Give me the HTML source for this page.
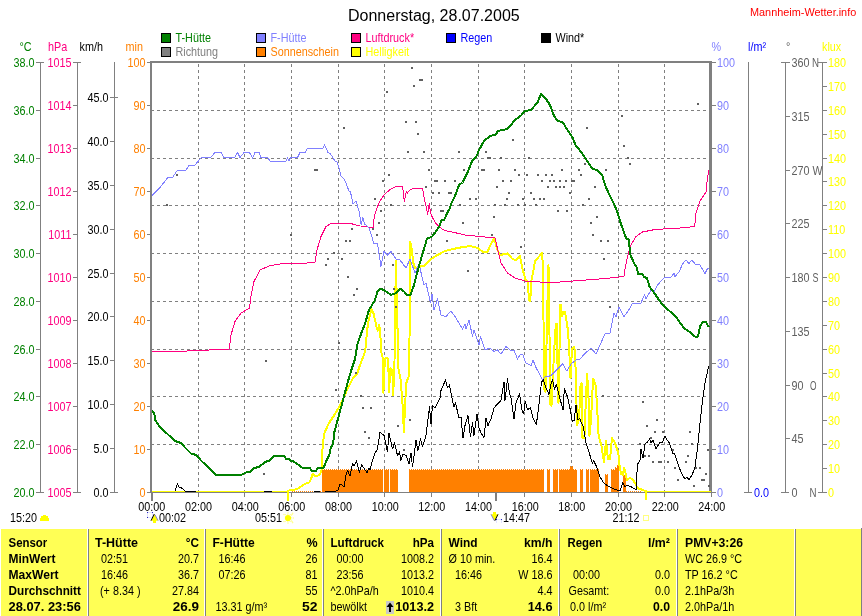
<!DOCTYPE html>
<html lang="de"><head><meta charset="utf-8"><title>Mannheim-Wetter.info - Donnerstag, 28.07.2005</title>
<style>html,body{margin:0;padding:0;background:#fff;overflow:hidden}svg{display:block;font-family:'Liberation Sans', Arial, sans-serif}text{white-space:pre}</style></head><body>
<svg width="862" height="616" viewBox="0 0 862 616">
<rect width="862" height="616" fill="#fff"/>
<g shape-rendering="crispEdges">
<g stroke="#808080" stroke-width="1" stroke-dasharray="3,3">
<line x1="198.5" y1="64" x2="198.5" y2="491"/>
<line x1="244.5" y1="64" x2="244.5" y2="491"/>
<line x1="291.5" y1="64" x2="291.5" y2="491"/>
<line x1="338.5" y1="64" x2="338.5" y2="491"/>
<line x1="384.5" y1="64" x2="384.5" y2="491"/>
<line x1="431.5" y1="64" x2="431.5" y2="491"/>
<line x1="478.5" y1="64" x2="478.5" y2="491"/>
<line x1="524.5" y1="64" x2="524.5" y2="491"/>
<line x1="571.5" y1="64" x2="571.5" y2="491"/>
<line x1="618.5" y1="64" x2="618.5" y2="491"/>
<line x1="664.5" y1="64" x2="664.5" y2="491"/>
<line x1="151" y1="110.5" x2="709" y2="110.5"/>
<line x1="151" y1="158.5" x2="709" y2="158.5"/>
<line x1="151" y1="205.5" x2="709" y2="205.5"/>
<line x1="151" y1="253.5" x2="709" y2="253.5"/>
<line x1="151" y1="301.5" x2="709" y2="301.5"/>
<line x1="151" y1="349.5" x2="709" y2="349.5"/>
<line x1="151" y1="396.5" x2="709" y2="396.5"/>
<line x1="151" y1="444.5" x2="709" y2="444.5"/>
</g>
</g>
<g shape-rendering="crispEdges">
<rect x="150" y="61" width="2" height="432" fill="#808080"/>
<rect x="150" y="61" width="562" height="2" fill="#808080"/>
<rect x="709" y="61" width="3" height="432" fill="#808080"/>
<rect x="150" y="492" width="562" height="1" fill="#808080"/>
<rect x="151" y="493" width="1" height="4" fill="#808080"/>
<rect x="198" y="493" width="1" height="4" fill="#808080"/>
<rect x="244" y="493" width="1" height="4" fill="#808080"/>
<rect x="291" y="493" width="1" height="4" fill="#808080"/>
<rect x="338" y="493" width="1" height="4" fill="#808080"/>
<rect x="384" y="493" width="1" height="4" fill="#808080"/>
<rect x="431" y="493" width="1" height="4" fill="#808080"/>
<rect x="478" y="493" width="1" height="4" fill="#808080"/>
<rect x="524" y="493" width="1" height="4" fill="#808080"/>
<rect x="571" y="493" width="1" height="4" fill="#808080"/>
<rect x="618" y="493" width="1" height="4" fill="#808080"/>
<rect x="664" y="493" width="1" height="4" fill="#808080"/>
<rect x="711" y="493" width="1" height="4" fill="#808080"/>
<rect x="151" y="493" width="2" height="8" fill="#808080"/>
<rect x="495" y="493" width="2" height="8" fill="#808080"/>
<rect x="40" y="62" width="1" height="431" fill="#808080"/>
<rect x="36" y="62" width="4" height="1" fill="#808080"/>
<rect x="36" y="110" width="4" height="1" fill="#808080"/>
<rect x="36" y="158" width="4" height="1" fill="#808080"/>
<rect x="36" y="205" width="4" height="1" fill="#808080"/>
<rect x="36" y="253" width="4" height="1" fill="#808080"/>
<rect x="36" y="301" width="4" height="1" fill="#808080"/>
<rect x="36" y="349" width="4" height="1" fill="#808080"/>
<rect x="36" y="396" width="4" height="1" fill="#808080"/>
<rect x="36" y="444" width="4" height="1" fill="#808080"/>
<rect x="36" y="492" width="4" height="1" fill="#808080"/>
<rect x="36" y="62" width="8" height="1" fill="#808080"/>
<rect x="36" y="492" width="8" height="1" fill="#808080"/>
<rect x="77" y="62" width="1" height="431" fill="#808080"/>
<rect x="73" y="62" width="4" height="1" fill="#808080"/>
<rect x="73" y="105" width="4" height="1" fill="#808080"/>
<rect x="73" y="148" width="4" height="1" fill="#808080"/>
<rect x="73" y="191" width="4" height="1" fill="#808080"/>
<rect x="73" y="234" width="4" height="1" fill="#808080"/>
<rect x="73" y="277" width="4" height="1" fill="#808080"/>
<rect x="73" y="320" width="4" height="1" fill="#808080"/>
<rect x="73" y="363" width="4" height="1" fill="#808080"/>
<rect x="73" y="406" width="4" height="1" fill="#808080"/>
<rect x="73" y="449" width="4" height="1" fill="#808080"/>
<rect x="73" y="492" width="4" height="1" fill="#808080"/>
<rect x="73" y="62" width="8" height="1" fill="#808080"/>
<rect x="73" y="492" width="8" height="1" fill="#808080"/>
<rect x="114" y="62" width="1" height="431" fill="#808080"/>
<rect x="110" y="492" width="8" height="1" fill="#808080"/>
<rect x="110" y="448" width="4" height="1" fill="#808080"/>
<rect x="110" y="404" width="4" height="1" fill="#808080"/>
<rect x="110" y="360" width="4" height="1" fill="#808080"/>
<rect x="110" y="316" width="4" height="1" fill="#808080"/>
<rect x="110" y="273" width="4" height="1" fill="#808080"/>
<rect x="110" y="229" width="4" height="1" fill="#808080"/>
<rect x="110" y="185" width="4" height="1" fill="#808080"/>
<rect x="110" y="141" width="4" height="1" fill="#808080"/>
<rect x="110" y="97" width="8" height="1" fill="#808080"/>
<rect x="147" y="62" width="3" height="1" fill="#808080"/>
<rect x="712" y="62" width="4" height="1" fill="#808080"/>
<rect x="147" y="105" width="3" height="1" fill="#808080"/>
<rect x="712" y="105" width="4" height="1" fill="#808080"/>
<rect x="147" y="148" width="3" height="1" fill="#808080"/>
<rect x="712" y="148" width="4" height="1" fill="#808080"/>
<rect x="147" y="191" width="3" height="1" fill="#808080"/>
<rect x="712" y="191" width="4" height="1" fill="#808080"/>
<rect x="147" y="234" width="3" height="1" fill="#808080"/>
<rect x="712" y="234" width="4" height="1" fill="#808080"/>
<rect x="147" y="277" width="3" height="1" fill="#808080"/>
<rect x="712" y="277" width="4" height="1" fill="#808080"/>
<rect x="147" y="320" width="3" height="1" fill="#808080"/>
<rect x="712" y="320" width="4" height="1" fill="#808080"/>
<rect x="147" y="363" width="3" height="1" fill="#808080"/>
<rect x="712" y="363" width="4" height="1" fill="#808080"/>
<rect x="147" y="406" width="3" height="1" fill="#808080"/>
<rect x="712" y="406" width="4" height="1" fill="#808080"/>
<rect x="147" y="449" width="3" height="1" fill="#808080"/>
<rect x="712" y="449" width="4" height="1" fill="#808080"/>
<rect x="147" y="492" width="3" height="1" fill="#808080"/>
<rect x="712" y="492" width="4" height="1" fill="#808080"/>
<rect x="748" y="62" width="1" height="431" fill="#808080"/>
<rect x="744" y="492" width="8" height="1" fill="#808080"/>
<rect x="785" y="62" width="1" height="431" fill="#808080"/>
<rect x="781" y="62" width="9" height="1" fill="#808080"/>
<rect x="785" y="116" width="5" height="1" fill="#808080"/>
<rect x="785" y="170" width="5" height="1" fill="#808080"/>
<rect x="785" y="223" width="5" height="1" fill="#808080"/>
<rect x="785" y="277" width="5" height="1" fill="#808080"/>
<rect x="785" y="331" width="5" height="1" fill="#808080"/>
<rect x="785" y="385" width="5" height="1" fill="#808080"/>
<rect x="785" y="438" width="5" height="1" fill="#808080"/>
<rect x="781" y="492" width="8" height="1" fill="#808080"/>
<rect x="822" y="62" width="1" height="431" fill="#808080"/>
<rect x="818" y="62" width="9" height="1" fill="#808080"/>
<rect x="822" y="86" width="5" height="1" fill="#808080"/>
<rect x="822" y="110" width="5" height="1" fill="#808080"/>
<rect x="822" y="134" width="5" height="1" fill="#808080"/>
<rect x="822" y="158" width="5" height="1" fill="#808080"/>
<rect x="822" y="181" width="5" height="1" fill="#808080"/>
<rect x="822" y="205" width="5" height="1" fill="#808080"/>
<rect x="822" y="229" width="5" height="1" fill="#808080"/>
<rect x="822" y="253" width="5" height="1" fill="#808080"/>
<rect x="822" y="277" width="5" height="1" fill="#808080"/>
<rect x="822" y="301" width="5" height="1" fill="#808080"/>
<rect x="822" y="325" width="5" height="1" fill="#808080"/>
<rect x="822" y="349" width="5" height="1" fill="#808080"/>
<rect x="822" y="373" width="5" height="1" fill="#808080"/>
<rect x="822" y="396" width="5" height="1" fill="#808080"/>
<rect x="822" y="420" width="5" height="1" fill="#808080"/>
<rect x="822" y="444" width="5" height="1" fill="#808080"/>
<rect x="822" y="468" width="5" height="1" fill="#808080"/>
<rect x="818" y="492" width="9" height="1" fill="#808080"/>
</g>
<g shape-rendering="crispEdges">
<g fill="#ff8000">
<rect x="322" y="470" width="61" height="22"/>
<rect x="384" y="470" width="5" height="22"/>
<rect x="390" y="470" width="8" height="22"/>
<rect x="409" y="470" width="135" height="22"/>
<rect x="547" y="470" width="3" height="22"/>
<rect x="553" y="470" width="5" height="22"/>
<rect x="559" y="470" width="11" height="22"/>
<rect x="570" y="467" width="3" height="25"/>
<rect x="573" y="470" width="4" height="22"/>
<rect x="580" y="470" width="3" height="22"/>
<rect x="586" y="470" width="3" height="22"/>
<rect x="590" y="470" width="9" height="22"/>
<rect x="605" y="475" width="3" height="17"/>
<rect x="611" y="470" width="4" height="22"/>
<rect x="615" y="468" width="2" height="24"/>
<rect x="617" y="466" width="2" height="26"/>
<rect x="623" y="475" width="3" height="17"/>
</g>
<g stroke="#ff8000" stroke-width="1" stroke-dasharray="1,1">
<line x1="322" y1="469.5" x2="383" y2="469.5"/>
<line x1="384" y1="469.5" x2="389" y2="469.5"/>
<line x1="390" y1="469.5" x2="398" y2="469.5"/>
<line x1="409" y1="469.5" x2="544" y2="469.5"/>
<line x1="547" y1="469.5" x2="550" y2="469.5"/>
<line x1="553" y1="469.5" x2="558" y2="469.5"/>
<line x1="559" y1="469.5" x2="570" y2="469.5"/>
<line x1="570" y1="466.5" x2="573" y2="466.5"/>
<line x1="573" y1="469.5" x2="577" y2="469.5"/>
<line x1="580" y1="469.5" x2="583" y2="469.5"/>
<line x1="586" y1="469.5" x2="589" y2="469.5"/>
<line x1="590" y1="469.5" x2="599" y2="469.5"/>
<line x1="605" y1="474.5" x2="608" y2="474.5"/>
<line x1="611" y1="469.5" x2="615" y2="469.5"/>
<line x1="615" y1="467.5" x2="617" y2="467.5"/>
<line x1="617" y1="465.5" x2="619" y2="465.5"/>
<line x1="623" y1="474.5" x2="626" y2="474.5"/>
<line x1="292" y1="491.5" x2="322" y2="491.5"/>
<line x1="626" y1="491.5" x2="641" y2="491.5"/>
</g>
</g>
<polyline points="289,490.5 292,490.3 297.8,488.7 304.8,484.1 309.4,482.3 311.2,478.3 312.9,473.6 314.7,476 318.7,475.4 321,472.5 322.2,466.7 322.4,450.5 324,434 329,423 335,414 340,405.5 344,397 347.5,389 352.5,379 357,374 359.7,366 365.3,351 366.2,340 368,323 371.4,309 373.7,314 376.5,327 377.8,330.7 379.3,325 380.2,334.5 381,344 381,351 383,358.7 383.4,393 384.9,358.7 385.8,357.7 388.2,358.7 389,392 390.4,368 392.3,370 393.2,395 394.5,362 395,312 396,260.8 397,312 398,344 398.3,368 400.7,380 402.6,405 403.9,432 405,407 406.3,383 409,375.5 409.5,340 409.7,310 410.2,242 412,250.5 413.2,262.6 415,268 418.4,267 425,265.4 429.6,260 434.3,257 437.5,255 445,251 457.5,248 470,246 477.5,248 482.5,251.5 487.5,251.5 491,244 494.5,238 497,249 500,255 507.5,253.5 512.5,259 516,260 519.5,256.5 520,256 522.8,270 525.6,280 527.8,282 529,300.6 530.3,300.6 531.2,282 533,272.6 535,261.5 538.7,256.8 542.4,252.7 543.5,320 544.5,390 545.5,392 546.5,345 547.5,300 548.5,265 549.5,335 550.5,405 551.5,406 553,373 554.5,345 555.8,324 556.8,324 557.8,380 558.5,403 559.5,350 560,305 561,305 562,316 563.5,312 565,312 566,318 567.6,328 569,345 570.5,378 572,349 574,347 575,351 576,382 577,425 579,420 580.6,384 581.6,383 582.5,438 584.4,438 586.2,392 587.2,374 588.7,401 589.4,436 591,420 592.4,392 593.3,379 595.6,385 597,405 598.4,433 600,442 601,443 604,462 606,440.5 608,459 610,459 612,438 615,443 617.5,450.5 618.5,455 619,462.7 621,474 623,474.8 624,467.8 625.5,472.9 626.8,479.9 630,478 632.5,479.2 635,483 637.6,488.2 641.5,489.5 645.5,491" fill="none" stroke="#ffff00" stroke-width="2" stroke-linejoin="round" shape-rendering="crispEdges"/>
<polyline points="287.8,490 287.8,500.5" fill="none" stroke="#ffff00" stroke-width="2" stroke-linejoin="round" shape-rendering="crispEdges"/>
<polyline points="646,490 646,500.3" fill="none" stroke="#ffff00" stroke-width="2" stroke-linejoin="round" shape-rendering="crispEdges"/>
<g fill="#606060" shape-rendering="crispEdges">
<rect x="343" y="127" width="2" height="2"/>
<rect x="314" y="169" width="4" height="2"/>
<rect x="176" y="174" width="2" height="2"/>
<rect x="166" y="204" width="2" height="2"/>
<rect x="411" y="67" width="2" height="2"/>
<rect x="419" y="79" width="4" height="2"/>
<rect x="413" y="85" width="2" height="2"/>
<rect x="386" y="91" width="2" height="2"/>
<rect x="405" y="121" width="2" height="2"/>
<rect x="415" y="121" width="2" height="2"/>
<rect x="417" y="133" width="2" height="2"/>
<rect x="407" y="151" width="2" height="2"/>
<rect x="423" y="151" width="2" height="2"/>
<rect x="458" y="151" width="2" height="2"/>
<rect x="485" y="151" width="2" height="2"/>
<rect x="512" y="139" width="2" height="2"/>
<rect x="428" y="169" width="2" height="2"/>
<rect x="388" y="174" width="2" height="2"/>
<rect x="382" y="180" width="2" height="2"/>
<rect x="463" y="169" width="2" height="2"/>
<rect x="481" y="169" width="4" height="2"/>
<rect x="498" y="169" width="2" height="2"/>
<rect x="514" y="169" width="2" height="2"/>
<rect x="487" y="157" width="4" height="2"/>
<rect x="500" y="157" width="2" height="2"/>
<rect x="528" y="157" width="2" height="2"/>
<rect x="561" y="169" width="2" height="2"/>
<rect x="578" y="169" width="2" height="2"/>
<rect x="518" y="174" width="2" height="2"/>
<rect x="526" y="174" width="2" height="2"/>
<rect x="537" y="174" width="2" height="2"/>
<rect x="545" y="174" width="2" height="2"/>
<rect x="551" y="174" width="2" height="2"/>
<rect x="434" y="180" width="4" height="2"/>
<rect x="444" y="180" width="2" height="2"/>
<rect x="454" y="180" width="2" height="2"/>
<rect x="502" y="180" width="2" height="2"/>
<rect x="510" y="180" width="2" height="2"/>
<rect x="541" y="180" width="2" height="2"/>
<rect x="549" y="180" width="2" height="2"/>
<rect x="553" y="180" width="2" height="2"/>
<rect x="559" y="180" width="2" height="2"/>
<rect x="565" y="180" width="2" height="2"/>
<rect x="571" y="180" width="4" height="2"/>
<rect x="425" y="186" width="2" height="2"/>
<rect x="496" y="186" width="2" height="2"/>
<rect x="547" y="186" width="2" height="2"/>
<rect x="555" y="186" width="2" height="2"/>
<rect x="559" y="186" width="2" height="2"/>
<rect x="563" y="186" width="2" height="2"/>
<rect x="432" y="192" width="2" height="2"/>
<rect x="438" y="192" width="2" height="2"/>
<rect x="448" y="192" width="4" height="2"/>
<rect x="508" y="192" width="2" height="2"/>
<rect x="530" y="192" width="2" height="2"/>
<rect x="569" y="192" width="2" height="2"/>
<rect x="374" y="198" width="2" height="2"/>
<rect x="469" y="198" width="2" height="2"/>
<rect x="475" y="198" width="2" height="2"/>
<rect x="506" y="198" width="2" height="2"/>
<rect x="522" y="198" width="2" height="2"/>
<rect x="533" y="198" width="2" height="2"/>
<rect x="539" y="198" width="2" height="2"/>
<rect x="543" y="198" width="2" height="2"/>
<rect x="390" y="204" width="2" height="2"/>
<rect x="459" y="204" width="2" height="2"/>
<rect x="494" y="204" width="2" height="2"/>
<rect x="504" y="204" width="2" height="2"/>
<rect x="517" y="204" width="2" height="2"/>
<rect x="524" y="204" width="2" height="2"/>
<rect x="535" y="204" width="2" height="2"/>
<rect x="380" y="210" width="2" height="2"/>
<rect x="440" y="210" width="4" height="2"/>
<rect x="557" y="210" width="2" height="2"/>
<rect x="566" y="210" width="2" height="2"/>
<rect x="697" y="103" width="2" height="2"/>
<rect x="621" y="115" width="2" height="2"/>
<rect x="586" y="127" width="2" height="2"/>
<rect x="623" y="145" width="2" height="2"/>
<rect x="627" y="157" width="2" height="2"/>
<rect x="629" y="163" width="2" height="2"/>
<rect x="584" y="163" width="2" height="2"/>
<rect x="605" y="169" width="2" height="2"/>
<rect x="580" y="174" width="2" height="2"/>
<rect x="594" y="186" width="2" height="2"/>
<rect x="588" y="198" width="2" height="2"/>
<rect x="582" y="204" width="2" height="2"/>
<rect x="290" y="234" width="2" height="2"/>
<rect x="351" y="228" width="2" height="2"/>
<rect x="345" y="240" width="2" height="2"/>
<rect x="349" y="240" width="2" height="2"/>
<rect x="333" y="252" width="2" height="2"/>
<rect x="327" y="258" width="2" height="2"/>
<rect x="341" y="258" width="2" height="2"/>
<rect x="325" y="264" width="2" height="2"/>
<rect x="347" y="276" width="2" height="2"/>
<rect x="356" y="288" width="2" height="2"/>
<rect x="353" y="294" width="2" height="2"/>
<rect x="338" y="342" width="2" height="2"/>
<rect x="265" y="360" width="2" height="2"/>
<rect x="378" y="222" width="2" height="2"/>
<rect x="376" y="234" width="2" height="2"/>
<rect x="372" y="228" width="2" height="2"/>
<rect x="392" y="264" width="2" height="2"/>
<rect x="393" y="288" width="2" height="2"/>
<rect x="395" y="306" width="2" height="2"/>
<rect x="433" y="232" width="2" height="2"/>
<rect x="446" y="240" width="2" height="2"/>
<rect x="462" y="222" width="2" height="2"/>
<rect x="467" y="270" width="2" height="2"/>
<rect x="493" y="216" width="2" height="2"/>
<rect x="491" y="234" width="2" height="2"/>
<rect x="520" y="246" width="2" height="2"/>
<rect x="478" y="341" width="2" height="2"/>
<rect x="596" y="216" width="2" height="2"/>
<rect x="590" y="222" width="2" height="2"/>
<rect x="592" y="234" width="2" height="2"/>
<rect x="600" y="240" width="2" height="2"/>
<rect x="607" y="240" width="2" height="2"/>
<rect x="603" y="258" width="2" height="2"/>
<rect x="609" y="306" width="2" height="2"/>
<rect x="263" y="473" width="2" height="2"/>
<rect x="335" y="389" width="2" height="2"/>
<rect x="362" y="407" width="2" height="2"/>
<rect x="355" y="372" width="2" height="2"/>
<rect x="360" y="395" width="2" height="2"/>
<rect x="362" y="407" width="2" height="2"/>
<rect x="370" y="407" width="2" height="2"/>
<rect x="409" y="419" width="2" height="2"/>
<rect x="397" y="425" width="2" height="2"/>
<rect x="364" y="431" width="2" height="2"/>
<rect x="368" y="437" width="2" height="2"/>
<rect x="403" y="449" width="2" height="2"/>
<rect x="355" y="372" width="2" height="2"/>
<rect x="602" y="395" width="2" height="2"/>
<rect x="642" y="401" width="2" height="2"/>
<rect x="656" y="419" width="2" height="2"/>
<rect x="646" y="425" width="2" height="2"/>
<rect x="654" y="431" width="2" height="2"/>
<rect x="662" y="431" width="2" height="2"/>
<rect x="689" y="431" width="2" height="2"/>
<rect x="650" y="437" width="2" height="2"/>
<rect x="639" y="443" width="2" height="2"/>
<rect x="691" y="443" width="2" height="2"/>
<rect x="672" y="449" width="2" height="2"/>
<rect x="707" y="449" width="2" height="2"/>
<rect x="644" y="455" width="2" height="2"/>
<rect x="648" y="455" width="2" height="2"/>
<rect x="687" y="455" width="2" height="2"/>
<rect x="652" y="461" width="2" height="2"/>
<rect x="658" y="461" width="4" height="2"/>
<rect x="667" y="461" width="2" height="2"/>
<rect x="685" y="461" width="2" height="2"/>
<rect x="674" y="467" width="2" height="2"/>
<rect x="695" y="467" width="2" height="2"/>
<rect x="699" y="467" width="2" height="2"/>
<rect x="705" y="473" width="2" height="2"/>
<rect x="677" y="479" width="2" height="2"/>
<rect x="701" y="479" width="4" height="2"/>
<rect x="693" y="485" width="2" height="2"/>
<rect x="708" y="485" width="2" height="2"/>
</g>
<polyline points="152,352 187.5,351 209,350 229.5,349 230.5,336.5 235,321.5 241,313 249.5,308 251,296.5 254,281.5 260,270 269,266 282.5,263.5 307.5,263 315.5,262 316.5,251.5 321,236.5 326,226.5 331,223.5 340,223 352.5,224 360,226 366.8,226.1 368.5,227.3 373.1,227.3 374.2,217 375.9,211.4 378.8,203.4 381.6,198.3 385.6,193.2 390.7,189.2 395.2,186.9 399.2,186.4 402.6,186.4 403.4,193.2 404.3,201.7 405.5,194.9 406.4,191.5 407.2,193.2 410,189.8 413.4,188.6 422.5,188.4 423.6,194.3 425.3,203.4 426.5,208 427.6,214.2 429.3,203.4 430.5,212.5 432.2,217 435,222.2 438.4,226.1 443,229.5 447.5,231.2 450,231.5 465,235 480,236.5 495,238 497,246.5 501,263 507.5,273 515,278 525,281 540,282 560,282 580,280.5 605,278.5 624,276.5 625,269 627.5,256.5 631,245 636,236.5 642.5,232 655,229.5 680,228 694.5,226.5 695.5,219 696,213 700,201 704,195 706,192 707.5,177.5 709,170" fill="none" stroke="#ff0080" stroke-width="1" stroke-linejoin="round" shape-rendering="crispEdges"/>
<polyline points="152,195.5 160,187.5 167.5,178 172.5,177.5 177.5,170 186,170 189,165.5 195,165 201,158 202.5,157 211,157 215,152.5 221,152.5 224,157.5 235,157 237.5,152.5 240,157.5 244,152.5 249.5,152.5 252.5,158 255,152.5 259,152.5 261,157.5 267.5,157.5 270,161 286,161 287.5,157.5 289,161 291,157.5 297.5,157.5 300,152.5 305,152.5 307.5,148 323,148 324.5,144.5 328,152.5 330.5,154 335,161 337,162 339.5,170 341,176 344.5,179.5 349,191 350.5,192 353,204 356,201 359.5,212.5 361.1,225 362.8,217.6 364.5,223.9 366.8,225.6 369.1,228.4 371.4,235.2 373.6,243.2 377,243.8 377.5,244 381,266.5 384,251.5 387.5,255 391,251.5 396,259 400,260 406,268 410,259 415,273 419,264 424,285 426,283 430.5,303 432,294 434,310 437.5,299 441,315 446,316.5 451,311 456,318 462.5,329 465,324 466,329 469,320 472.5,336.5 474,330 479,345 480.5,336.5 485,350 490,348 494,351.5 497.5,350 501,354 506,346.5 510,350 514,350 517.5,359 520,355 522.8,354.3 525.6,362.7 529.3,364.6 531.2,365.5 533,360 535.9,367.4 542.4,379.5 545.2,376.7 550.8,375.8 557.3,369.3 562.9,363.7 566.6,371 571.3,363.7 576,360 580,359 585,353.5 591,348 596,354 600,345 605,334 610,333 614,313 616,316.5 619,307 624,316.5 627.5,312 632.5,303.5 641,303 644.5,294.5 646,299 651,290 654,292 657.5,285 664,278 671,277 674,273.5 675,276.5 679,272 682.5,264 686,260 689,263.5 692,260 695,264 700,265 705,273.5 707.5,268.5 709,268" fill="none" stroke="#8080ff" stroke-width="1" stroke-linejoin="round" shape-rendering="crispEdges"/>
<polyline points="175,491.5 177.5,483.5 179.5,488 181,487.5 185,490.5" fill="none" stroke="#000" stroke-width="1" stroke-linejoin="round" shape-rendering="crispEdges"/>
<polyline points="325,491.5 335,491.5 338.4,490 339.6,484.7 341,484.1 344.2,487 346,474.8 347.7,470.7 350,476 351.8,467.3 352.6,463.8 354.1,466.1 356.4,460.9 359.3,472.5 361.6,465 364.5,469 367,472.5 369,468 370,470 372.5,460.5 375,453 377.5,449 380,432 384,435.5 387.5,452 389,433 392.5,449 394.5,443 397.5,455.5 399.5,452 401,460.5 403,454 406,455.5 409,464 411,453 412.5,467 416,440.5 418,450.5 420.5,439 422.5,447 426,435.5 429.5,407 431,424 432.5,405.5 435,408 440,398 441,390.5 445.5,380 447.5,388 449.5,385 452.5,400.5 454,407 455.5,403 459,418 461,417 463,438 465,425.5 468,415.5 470.5,437 472.5,423 474,435.5 477,414 479,428 481,433 484,437.5 486,418 488,425.5 491,419 494,408 497.5,404 501,400.5 504,382 505,400.5 507.5,379 509.5,394 511,398 514,419 516,403 519.5,394 521.9,410 523.7,414 525.2,401 527.5,410 530.3,407.5 533,417.8 536.4,424.3 538.7,406.6 541.5,382.3 543.3,379.5 546.1,388 549,394.4 550.8,385 552.6,379.5 554.5,389.8 556.4,384.2 559.2,395.4 563,410.3 564.4,388 567.6,397.2 570,408.4 572.2,421.5 574.1,420.6 576,404.7 577.8,419.6 579.7,418.7 583.4,427 586,443 590,455.5 592.3,463.3 593.6,460.7 596.2,465.8 600,476.7 603.2,482.4 608.3,486.3 614.7,489.5 620.4,490.7 622.6,482.4 624.9,486.3 628,485.6 631.3,486.9 636.4,490 636.6,478 637.6,464 640,460.5 641,449 643,458 645,444 647.5,442 649.5,439 651,443 653,440 656,449 659.5,443 662.5,442 665,436 667.5,440.5 669.5,443 672.5,453 674.5,454 676,458 679,467 682.5,475.5 685,479 687,477 689,480 692.5,474 695,467 697.5,448 700,423 702.5,400.5 705,383 708,369 709,366" fill="none" stroke="#000" stroke-width="1" stroke-linejoin="round" shape-rendering="crispEdges"/>
<polyline points="152,411 154,412.5 155.5,420.5 160,427 167.5,434 175,441 181,443 185,447.5 191,453.5 196,455 201,460.5 210,469 216,475 241,475 246,472.5 250,472 254,468 259,467 265,462 270,460.3 274.6,455.7 284.5,455.7 285.7,458.6 289.1,459.1 290.9,460.9 293.8,461.5 298.4,464.9 302.5,467.8 310,467.8 311.2,470.7 316.4,470.7 317,468.4 318.7,467.8 323.4,467.6 325.1,464.4 326.8,459.7 329.2,455.1 330.9,447.5 333.2,444 334,433.5 337.5,420.5 342.5,402 347.5,383 352,368 355,359 357.5,344 361,334 365,323.5 369,310 375,300 377.5,291.5 381,288.5 386,291.5 391,295 396,293 400,288.5 404,291.5 407,295 410.5,295 414,285 417.5,271.5 421,259 425.3,244.5 427,238.6 431.6,237 435,233 439.5,226 441.2,220.5 444,220 447.5,212.5 450,208 451,204 455,196 459,185 462.5,182.5 467.5,172.5 472.5,160 476,157.5 479,150 484,141 490,136 496,134.5 497.5,131 507.5,129 515,120 521,115.5 525,111 531,110 537.5,102.5 541,94 545,97.5 550,105 554,116 557.5,121 562.5,122 567.5,130 572.5,137.5 576,146 580,150.5 586,159 592.5,169 597.5,170 602.5,176 605,185 610,196 614,204 617.5,212.5 621,224 626,238 629,240 630,254 634,263 637,268 638,274 642.5,274 644,277 647,278 649.5,286.5 655,294 660,301.5 665,307 670,311.5 676,316.5 680,323 685,329 690,332 694.5,336.5 698,336.5 700,326.5 702.5,322 706,322 707.5,325 709,327" fill="none" stroke="#008000" stroke-width="2" stroke-linejoin="round" shape-rendering="crispEdges"/>
<g shape-rendering="crispEdges">
<rect x="152" y="491" width="136" height="1" fill="#ffff00"/>
<rect x="646" y="491" width="65" height="1" fill="#ffff00"/>
<rect x="185" y="491" width="11" height="1" fill="#000"/>
<rect x="264" y="491" width="8" height="1" fill="#000"/>
<rect x="314" y="491" width="6" height="1" fill="#000"/>
<rect x="325" y="491" width="10" height="1" fill="#000"/>
</g>
<text transform="translate(34.5,66.8) scale(0.9,1)" font-size="12" fill="#008000" text-anchor="end">38.0</text>
<text transform="translate(34.5,114.8) scale(0.9,1)" font-size="12" fill="#008000" text-anchor="end">36.0</text>
<text transform="translate(34.5,162.8) scale(0.9,1)" font-size="12" fill="#008000" text-anchor="end">34.0</text>
<text transform="translate(34.5,209.8) scale(0.9,1)" font-size="12" fill="#008000" text-anchor="end">32.0</text>
<text transform="translate(34.5,257.8) scale(0.9,1)" font-size="12" fill="#008000" text-anchor="end">30.0</text>
<text transform="translate(34.5,305.8) scale(0.9,1)" font-size="12" fill="#008000" text-anchor="end">28.0</text>
<text transform="translate(34.5,353.8) scale(0.9,1)" font-size="12" fill="#008000" text-anchor="end">26.0</text>
<text transform="translate(34.5,400.8) scale(0.9,1)" font-size="12" fill="#008000" text-anchor="end">24.0</text>
<text transform="translate(34.5,448.8) scale(0.9,1)" font-size="12" fill="#008000" text-anchor="end">22.0</text>
<text transform="translate(34.5,496.8) scale(0.9,1)" font-size="12" fill="#008000" text-anchor="end">20.0</text>
<text transform="translate(71.5,66.8) scale(0.9,1)" font-size="12" fill="#ff0080" text-anchor="end">1015</text>
<text transform="translate(145.5,66.8) scale(0.9,1)" font-size="12" fill="#ff8000" text-anchor="end">100</text>
<text transform="translate(717,66.8) scale(0.9,1)" font-size="12" fill="#8080ff">100</text>
<text transform="translate(71.5,109.8) scale(0.9,1)" font-size="12" fill="#ff0080" text-anchor="end">1014</text>
<text transform="translate(145.5,109.8) scale(0.9,1)" font-size="12" fill="#ff8000" text-anchor="end">90</text>
<text transform="translate(717,109.8) scale(0.9,1)" font-size="12" fill="#8080ff">90</text>
<text transform="translate(71.5,152.8) scale(0.9,1)" font-size="12" fill="#ff0080" text-anchor="end">1013</text>
<text transform="translate(145.5,152.8) scale(0.9,1)" font-size="12" fill="#ff8000" text-anchor="end">80</text>
<text transform="translate(717,152.8) scale(0.9,1)" font-size="12" fill="#8080ff">80</text>
<text transform="translate(71.5,195.8) scale(0.9,1)" font-size="12" fill="#ff0080" text-anchor="end">1012</text>
<text transform="translate(145.5,195.8) scale(0.9,1)" font-size="12" fill="#ff8000" text-anchor="end">70</text>
<text transform="translate(717,195.8) scale(0.9,1)" font-size="12" fill="#8080ff">70</text>
<text transform="translate(71.5,238.8) scale(0.9,1)" font-size="12" fill="#ff0080" text-anchor="end">1011</text>
<text transform="translate(145.5,238.8) scale(0.9,1)" font-size="12" fill="#ff8000" text-anchor="end">60</text>
<text transform="translate(717,238.8) scale(0.9,1)" font-size="12" fill="#8080ff">60</text>
<text transform="translate(71.5,281.8) scale(0.9,1)" font-size="12" fill="#ff0080" text-anchor="end">1010</text>
<text transform="translate(145.5,281.8) scale(0.9,1)" font-size="12" fill="#ff8000" text-anchor="end">50</text>
<text transform="translate(717,281.8) scale(0.9,1)" font-size="12" fill="#8080ff">50</text>
<text transform="translate(71.5,324.8) scale(0.9,1)" font-size="12" fill="#ff0080" text-anchor="end">1009</text>
<text transform="translate(145.5,324.8) scale(0.9,1)" font-size="12" fill="#ff8000" text-anchor="end">40</text>
<text transform="translate(717,324.8) scale(0.9,1)" font-size="12" fill="#8080ff">40</text>
<text transform="translate(71.5,367.8) scale(0.9,1)" font-size="12" fill="#ff0080" text-anchor="end">1008</text>
<text transform="translate(145.5,367.8) scale(0.9,1)" font-size="12" fill="#ff8000" text-anchor="end">30</text>
<text transform="translate(717,367.8) scale(0.9,1)" font-size="12" fill="#8080ff">30</text>
<text transform="translate(71.5,410.8) scale(0.9,1)" font-size="12" fill="#ff0080" text-anchor="end">1007</text>
<text transform="translate(145.5,410.8) scale(0.9,1)" font-size="12" fill="#ff8000" text-anchor="end">20</text>
<text transform="translate(717,410.8) scale(0.9,1)" font-size="12" fill="#8080ff">20</text>
<text transform="translate(71.5,453.8) scale(0.9,1)" font-size="12" fill="#ff0080" text-anchor="end">1006</text>
<text transform="translate(145.5,453.8) scale(0.9,1)" font-size="12" fill="#ff8000" text-anchor="end">10</text>
<text transform="translate(717,453.8) scale(0.9,1)" font-size="12" fill="#8080ff">10</text>
<text transform="translate(71.5,496.8) scale(0.9,1)" font-size="12" fill="#ff0080" text-anchor="end">1005</text>
<text transform="translate(145.5,496.8) scale(0.9,1)" font-size="12" fill="#ff8000" text-anchor="end">0</text>
<text transform="translate(717,496.8) scale(0.9,1)" font-size="12" fill="#8080ff">0</text>
<text transform="translate(108.5,496.8) scale(0.9,1)" font-size="12" fill="#000" text-anchor="end">0.0</text>
<text transform="translate(108.5,452.8) scale(0.9,1)" font-size="12" fill="#000" text-anchor="end">5.0</text>
<text transform="translate(108.5,408.8) scale(0.9,1)" font-size="12" fill="#000" text-anchor="end">10.0</text>
<text transform="translate(108.5,364.8) scale(0.9,1)" font-size="12" fill="#000" text-anchor="end">15.0</text>
<text transform="translate(108.5,320.8) scale(0.9,1)" font-size="12" fill="#000" text-anchor="end">20.0</text>
<text transform="translate(108.5,277.8) scale(0.9,1)" font-size="12" fill="#000" text-anchor="end">25.0</text>
<text transform="translate(108.5,233.8) scale(0.9,1)" font-size="12" fill="#000" text-anchor="end">30.0</text>
<text transform="translate(108.5,189.8) scale(0.9,1)" font-size="12" fill="#000" text-anchor="end">35.0</text>
<text transform="translate(108.5,145.8) scale(0.9,1)" font-size="12" fill="#000" text-anchor="end">40.0</text>
<text transform="translate(108.5,101.8) scale(0.9,1)" font-size="12" fill="#000" text-anchor="end">45.0</text>
<text transform="translate(791.5,66.8) scale(0.9,1)" font-size="12" fill="#606060">360</text>
<text x="812" y="66.8" font-size="12" fill="#606060" textLength="7" lengthAdjust="spacingAndGlyphs">N</text>
<text transform="translate(791.5,120.8) scale(0.9,1)" font-size="12" fill="#606060">315</text>
<text transform="translate(791.5,174.8) scale(0.9,1)" font-size="12" fill="#606060">270</text>
<text x="812.5" y="174.8" font-size="12" fill="#606060" textLength="10" lengthAdjust="spacingAndGlyphs">W</text>
<text transform="translate(791.5,227.8) scale(0.9,1)" font-size="12" fill="#606060">225</text>
<text transform="translate(791.5,281.8) scale(0.9,1)" font-size="12" fill="#606060">180</text>
<text x="812.5" y="281.8" font-size="12" fill="#606060" textLength="6" lengthAdjust="spacingAndGlyphs">S</text>
<text transform="translate(791.5,335.8) scale(0.9,1)" font-size="12" fill="#606060">135</text>
<text transform="translate(791.5,389.8) scale(0.9,1)" font-size="12" fill="#606060">90</text>
<text x="810" y="389.8" font-size="12" fill="#606060" textLength="6.5" lengthAdjust="spacingAndGlyphs">O</text>
<text transform="translate(791.5,442.8) scale(0.9,1)" font-size="12" fill="#606060">45</text>
<text transform="translate(791.5,496.8) scale(0.9,1)" font-size="12" fill="#606060">0</text>
<text x="809.5" y="496.8" font-size="12" fill="#606060" textLength="7" lengthAdjust="spacingAndGlyphs">N</text>
<text transform="translate(828,66.8) scale(0.9,1)" font-size="12" fill="#ffff00">180</text>
<text transform="translate(828,90.8) scale(0.9,1)" font-size="12" fill="#ffff00">170</text>
<text transform="translate(828,114.8) scale(0.9,1)" font-size="12" fill="#ffff00">160</text>
<text transform="translate(828,138.8) scale(0.9,1)" font-size="12" fill="#ffff00">150</text>
<text transform="translate(828,162.8) scale(0.9,1)" font-size="12" fill="#ffff00">140</text>
<text transform="translate(828,185.8) scale(0.9,1)" font-size="12" fill="#ffff00">130</text>
<text transform="translate(828,209.8) scale(0.9,1)" font-size="12" fill="#ffff00">120</text>
<text transform="translate(828,233.8) scale(0.9,1)" font-size="12" fill="#ffff00">110</text>
<text transform="translate(828,257.8) scale(0.9,1)" font-size="12" fill="#ffff00">100</text>
<text transform="translate(828,281.8) scale(0.9,1)" font-size="12" fill="#ffff00">90</text>
<text transform="translate(828,305.8) scale(0.9,1)" font-size="12" fill="#ffff00">80</text>
<text transform="translate(828,329.8) scale(0.9,1)" font-size="12" fill="#ffff00">70</text>
<text transform="translate(828,353.8) scale(0.9,1)" font-size="12" fill="#ffff00">60</text>
<text transform="translate(828,377.8) scale(0.9,1)" font-size="12" fill="#ffff00">50</text>
<text transform="translate(828,400.8) scale(0.9,1)" font-size="12" fill="#ffff00">40</text>
<text transform="translate(828,424.8) scale(0.9,1)" font-size="12" fill="#ffff00">30</text>
<text transform="translate(828,448.8) scale(0.9,1)" font-size="12" fill="#ffff00">20</text>
<text transform="translate(828,472.8) scale(0.9,1)" font-size="12" fill="#ffff00">10</text>
<text transform="translate(828,496.8) scale(0.9,1)" font-size="12" fill="#ffff00">0</text>
<text transform="translate(754,496.8) scale(0.9,1)" font-size="12" fill="#0000ff">0.0</text>
<text transform="translate(19.5,51) scale(0.9,1)" font-size="12" fill="#008000">°C</text>
<text transform="translate(48,51) scale(0.9,1)" font-size="12" fill="#ff0080">hPa</text>
<text transform="translate(79.5,51) scale(0.9,1)" font-size="12" fill="#000">km/h</text>
<text transform="translate(125.5,51) scale(0.9,1)" font-size="12" fill="#ff8000">min</text>
<text transform="translate(711.5,51) scale(0.9,1)" font-size="12" fill="#8080ff">%</text>
<text transform="translate(748,51) scale(0.9,1)" font-size="12" fill="#0000ff">l/m²</text>
<text transform="translate(786,51) scale(0.9,1)" font-size="12" fill="#606060">°</text>
<text transform="translate(822,51) scale(0.9,1)" font-size="12" fill="#ffff00">klux</text>
<text transform="translate(151.8,511) scale(0.9,1)" font-size="12" fill="#000" text-anchor="middle">00:00</text>
<text transform="translate(198.4667,511) scale(0.9,1)" font-size="12" fill="#000" text-anchor="middle">02:00</text>
<text transform="translate(245.1334,511) scale(0.9,1)" font-size="12" fill="#000" text-anchor="middle">04:00</text>
<text transform="translate(291.8001,511) scale(0.9,1)" font-size="12" fill="#000" text-anchor="middle">06:00</text>
<text transform="translate(338.4668,511) scale(0.9,1)" font-size="12" fill="#000" text-anchor="middle">08:00</text>
<text transform="translate(385.13349999999997,511) scale(0.9,1)" font-size="12" fill="#000" text-anchor="middle">10:00</text>
<text transform="translate(431.8002,511) scale(0.9,1)" font-size="12" fill="#000" text-anchor="middle">12:00</text>
<text transform="translate(478.4669,511) scale(0.9,1)" font-size="12" fill="#000" text-anchor="middle">14:00</text>
<text transform="translate(525.1335999999999,511) scale(0.9,1)" font-size="12" fill="#000" text-anchor="middle">16:00</text>
<text transform="translate(571.8002999999999,511) scale(0.9,1)" font-size="12" fill="#000" text-anchor="middle">18:00</text>
<text transform="translate(618.4669999999999,511) scale(0.9,1)" font-size="12" fill="#000" text-anchor="middle">20:00</text>
<text transform="translate(665.1337,511) scale(0.9,1)" font-size="12" fill="#000" text-anchor="middle">22:00</text>
<text transform="translate(711.8004,511) scale(0.9,1)" font-size="12" fill="#000" text-anchor="middle">24:00</text>
<text transform="translate(348,21) scale(1.0,1)" font-size="16" fill="#000">Donnerstag, 28.07.2005</text>
<text transform="translate(750,15.7) scale(0.99,1)" font-size="11" fill="#ff0000">Mannheim-Wetter.info</text>
<rect x="161.5" y="33.5" width="9" height="9" fill="#008000" stroke="#000" stroke-width="1" shape-rendering="crispEdges"/>
<text transform="translate(175.5,42) scale(0.9,1)" font-size="12" fill="#008000">T-Hütte</text>
<rect x="256.5" y="33.5" width="9" height="9" fill="#8080ff" stroke="#000" stroke-width="1" shape-rendering="crispEdges"/>
<text transform="translate(270.5,42) scale(0.9,1)" font-size="12" fill="#8080ff">F-Hütte</text>
<rect x="351.5" y="33.5" width="9" height="9" fill="#ff0080" stroke="#000" stroke-width="1" shape-rendering="crispEdges"/>
<text transform="translate(365.5,42) scale(0.9,1)" font-size="12" fill="#ff0080">Luftdruck*</text>
<rect x="446.5" y="33.5" width="9" height="9" fill="#0000ff" stroke="#000" stroke-width="1" shape-rendering="crispEdges"/>
<text transform="translate(460.5,42) scale(0.9,1)" font-size="12" fill="#0000ff">Regen</text>
<rect x="541.5" y="33.5" width="9" height="9" fill="#000" stroke="#000" stroke-width="1" shape-rendering="crispEdges"/>
<text transform="translate(555.5,42) scale(0.9,1)" font-size="12" fill="#000">Wind*</text>
<rect x="161.5" y="47.5" width="9" height="9" fill="#808080" stroke="#000" stroke-width="1" shape-rendering="crispEdges"/>
<text transform="translate(175.5,56) scale(0.9,1)" font-size="12" fill="#808080">Richtung</text>
<rect x="256.5" y="47.5" width="9" height="9" fill="#ff8000" stroke="#000" stroke-width="1" shape-rendering="crispEdges"/>
<text transform="translate(270.5,56) scale(0.9,1)" font-size="12" fill="#ff8000">Sonnenschein</text>
<rect x="351.5" y="47.5" width="9" height="9" fill="#ffff00" stroke="#000" stroke-width="1" shape-rendering="crispEdges"/>
<text transform="translate(365.5,56) scale(0.9,1)" font-size="12" fill="#ffff00">Helligkeit</text>
<text transform="translate(10,522) scale(0.9,1)" font-size="12" fill="#000">15:20</text>
<g shape-rendering="crispEdges">
<path d="M40,521 V518 H41 V516 H43 V515 H46 V516 H48 V518 H49 V521 Z" fill="#ffff00"/>
<rect x="147.5" y="512.5" width="5" height="5" fill="none" stroke="#e4e4ff" stroke-width="1"/>
<rect x="147" y="512" width="1" height="1" fill="#2828c0"/>
<rect x="152" y="512" width="1" height="1" fill="#2828c0"/>
<rect x="147" y="517" width="1" height="1" fill="#2828c0"/>
<rect x="152" y="517" width="1" height="1" fill="#2828c0"/>
</g>
<path d="M154.5,514 L158,520.7 L156,520.7 L156,523 L153,523 L153,520.7 L151,520.7 Z" fill="#ffff00"/>
<path d="M154.3,514 L151,520.7" stroke="#000" stroke-width="1" fill="none"/>
<path d="M155,514.8 L158.2,520.7" stroke="#6060e0" stroke-width="0.8" fill="none"/>
<text transform="translate(159,522) scale(0.9,1)" font-size="12" fill="#000">00:02</text>
<text transform="translate(255,522) scale(0.9,1)" font-size="12" fill="#000">05:51</text>
<g fill="#ffff90">
<circle cx="288" cy="513" r="0.8"/>
<circle cx="288" cy="523" r="0.8"/>
<circle cx="293.3" cy="518" r="0.8"/>
<circle cx="284" cy="514.5" r="0.8"/>
<circle cx="292" cy="514.5" r="0.8"/>
<circle cx="284" cy="521.5" r="0.8"/>
<circle cx="292" cy="521.5" r="0.8"/>
<circle cx="292.6" cy="513.4" r="0.8"/>
<circle cx="292.6" cy="522.6" r="0.8"/>
</g>
<path d="M284.5,514.5 H292 M284.5,521.5 H292 M291.5,514.5 V521.5" stroke="#ffffa8" stroke-width="1" stroke-dasharray="1.5,1" fill="none"/>
<circle cx="288" cy="518" r="3.1" fill="#ffff00"/>
<path d="M493,512 H496 V514.3 H498 L494.6,520.8 L491,514.3 H493 Z" fill="#ffff00"/>
<path d="M498,514.3 L494.8,520.8" stroke="#000" stroke-width="1" fill="none"/>
<path d="M491,514.3 L494.2,520.5" stroke="#6060e0" stroke-width="0.8" fill="none"/>
<g shape-rendering="crispEdges">
<path d="M496.5,523 V519.5 H501.5 V523" fill="none" stroke="#e4e4ff" stroke-width="1"/>
<rect x="496" y="519" width="1" height="1" fill="#2828c0"/><rect x="501" y="519" width="1" height="1" fill="#2828c0"/>
</g>
<text transform="translate(503,522) scale(0.9,1)" font-size="12" fill="#000">14:47</text>
<text transform="translate(612.5,522) scale(0.9,1)" font-size="12" fill="#000">21:12</text>
<rect x="643.5" y="515.5" width="5" height="5" fill="none" stroke="#ffff80" stroke-width="1" shape-rendering="crispEdges"/>
<g shape-rendering="crispEdges">
<rect x="1" y="529" width="861" height="87" fill="#ffff55"/>
<rect x="861" y="528" width="1" height="88" fill="#808080"/>
<rect x="87" y="529" width="1" height="87" fill="#fff"/>
<rect x="88" y="529" width="1" height="87" fill="#808080"/>
<rect x="204" y="529" width="1" height="87" fill="#fff"/>
<rect x="205" y="529" width="1" height="87" fill="#808080"/>
<rect x="322" y="529" width="1" height="87" fill="#fff"/>
<rect x="323" y="529" width="1" height="87" fill="#808080"/>
<rect x="440" y="529" width="1" height="87" fill="#fff"/>
<rect x="441" y="529" width="1" height="87" fill="#808080"/>
<rect x="558" y="529" width="1" height="87" fill="#fff"/>
<rect x="559" y="529" width="1" height="87" fill="#808080"/>
<rect x="676" y="529" width="1" height="87" fill="#fff"/>
<rect x="677" y="529" width="1" height="87" fill="#808080"/>
<rect x="794" y="529" width="1" height="87" fill="#fff"/>
<rect x="795" y="529" width="1" height="87" fill="#808080"/>
</g>
<text x="8.5" y="547" font-size="12" fill="#000" font-weight="bold" textLength="38.8" lengthAdjust="spacingAndGlyphs">Sensor</text>
<text x="8.5" y="563" font-size="12" fill="#000" font-weight="bold" textLength="47" lengthAdjust="spacingAndGlyphs">MinWert</text>
<text x="8.5" y="579" font-size="12" fill="#000" font-weight="bold" textLength="50.1" lengthAdjust="spacingAndGlyphs">MaxWert</text>
<text x="8.5" y="595" font-size="12" fill="#000" font-weight="bold" textLength="72.4" lengthAdjust="spacingAndGlyphs">Durchschnitt</text>
<text x="8.5" y="611" font-size="12" fill="#000" font-weight="bold" textLength="72.4" lengthAdjust="spacingAndGlyphs">28.07. 23:56</text>
<text x="95" y="547" font-size="12" fill="#000" font-weight="bold" textLength="43" lengthAdjust="spacingAndGlyphs">T-Hütte</text>
<text x="199" y="547" font-size="12" fill="#000" font-weight="bold" text-anchor="end" textLength="13.2" lengthAdjust="spacingAndGlyphs">°C</text>
<text transform="translate(101,563) scale(0.9,1)" font-size="12" fill="#000">02:51</text>
<text transform="translate(199,563) scale(0.9,1)" font-size="12" fill="#000" text-anchor="end">20.7</text>
<text transform="translate(101,579) scale(0.9,1)" font-size="12" fill="#000">16:46</text>
<text transform="translate(199,579) scale(0.9,1)" font-size="12" fill="#000" text-anchor="end">36.7</text>
<text transform="translate(100,595) scale(0.9,1)" font-size="12" fill="#000">(+ 8.34 )</text>
<text transform="translate(199,595) scale(0.9,1)" font-size="12" fill="#000" text-anchor="end">27.84</text>
<text x="199" y="611" font-size="12" fill="#000" font-weight="bold" text-anchor="end" textLength="26.2" lengthAdjust="spacingAndGlyphs">26.9</text>
<text x="212.5" y="547" font-size="12" fill="#000" font-weight="bold" textLength="42.2" lengthAdjust="spacingAndGlyphs">F-Hütte</text>
<text x="317.5" y="547" font-size="12" fill="#000" font-weight="bold" text-anchor="end" textLength="11.1" lengthAdjust="spacingAndGlyphs">%</text>
<text transform="translate(218.5,563) scale(0.9,1)" font-size="12" fill="#000">16:46</text>
<text transform="translate(317.5,563) scale(0.9,1)" font-size="12" fill="#000" text-anchor="end">26</text>
<text transform="translate(218.5,579) scale(0.9,1)" font-size="12" fill="#000">07:26</text>
<text transform="translate(317.5,579) scale(0.9,1)" font-size="12" fill="#000" text-anchor="end">81</text>
<text transform="translate(317.5,595) scale(0.9,1)" font-size="12" fill="#000" text-anchor="end">55</text>
<text transform="translate(215.5,611) scale(0.9,1)" font-size="12" fill="#000">13.31 g/m³</text>
<text x="317.5" y="611" font-size="12" fill="#000" font-weight="bold" text-anchor="end" textLength="15.5" lengthAdjust="spacingAndGlyphs">52</text>
<text x="330.5" y="547" font-size="12" fill="#000" font-weight="bold" textLength="53.5" lengthAdjust="spacingAndGlyphs">Luftdruck</text>
<text x="434" y="547" font-size="12" fill="#000" font-weight="bold" text-anchor="end" textLength="21.3" lengthAdjust="spacingAndGlyphs">hPa</text>
<text transform="translate(336.5,563) scale(0.9,1)" font-size="12" fill="#000">00:00</text>
<text transform="translate(434,563) scale(0.9,1)" font-size="12" fill="#000" text-anchor="end">1008.2</text>
<text transform="translate(336.5,579) scale(0.9,1)" font-size="12" fill="#000">23:56</text>
<text transform="translate(434,579) scale(0.9,1)" font-size="12" fill="#000" text-anchor="end">1013.2</text>
<text transform="translate(330.5,595) scale(0.9,1)" font-size="12" fill="#000">^2.0hPa/h</text>
<text transform="translate(434,595) scale(0.9,1)" font-size="12" fill="#000" text-anchor="end">1010.4</text>
<text transform="translate(330.5,611) scale(0.9,1)" font-size="12" fill="#000">bewölkt</text>
<rect x="386" y="601" width="8" height="13" fill="#c8c8c8" shape-rendering="crispEdges"/>
<path d="M390,602.5 L393.5,607 L391,607 L391,612 L389,612 L389,607 L386.5,607 Z" fill="#000"/>
<text x="434" y="611" font-size="12" fill="#000" font-weight="bold" text-anchor="end" textLength="38.7" lengthAdjust="spacingAndGlyphs">1013.2</text>
<text x="448.5" y="547" font-size="12" fill="#000" font-weight="bold" textLength="29" lengthAdjust="spacingAndGlyphs">Wind</text>
<text x="552.5" y="547" font-size="12" fill="#000" font-weight="bold" text-anchor="end" textLength="28.5" lengthAdjust="spacingAndGlyphs">km/h</text>
<text transform="translate(448.5,563) scale(0.9,1)" font-size="12" fill="#000">Ø 10 min.</text>
<text transform="translate(552.5,563) scale(0.9,1)" font-size="12" fill="#000" text-anchor="end">16.4</text>
<text transform="translate(455,579) scale(0.9,1)" font-size="12" fill="#000">16:46</text>
<text transform="translate(552.5,579) scale(0.9,1)" font-size="12" fill="#000" text-anchor="end">W 18.6</text>
<text transform="translate(552.5,595) scale(0.9,1)" font-size="12" fill="#000" text-anchor="end">4.4</text>
<text transform="translate(455,611) scale(0.9,1)" font-size="12" fill="#000">3 Bft</text>
<text x="552.5" y="611" font-size="12" fill="#000" font-weight="bold" text-anchor="end" textLength="24.8" lengthAdjust="spacingAndGlyphs">14.6</text>
<text x="567.5" y="547" font-size="12" fill="#000" font-weight="bold" textLength="34.8" lengthAdjust="spacingAndGlyphs">Regen</text>
<text x="670" y="547" font-size="12" fill="#000" font-weight="bold" text-anchor="end" textLength="22" lengthAdjust="spacingAndGlyphs">l/m²</text>
<text transform="translate(573,579) scale(0.9,1)" font-size="12" fill="#000">00:00</text>
<text transform="translate(670,579) scale(0.9,1)" font-size="12" fill="#000" text-anchor="end">0.0</text>
<text transform="translate(568.5,595) scale(0.9,1)" font-size="12" fill="#000">Gesamt:</text>
<text transform="translate(670,595) scale(0.9,1)" font-size="12" fill="#000" text-anchor="end">0.0</text>
<text transform="translate(570,611) scale(0.9,1)" font-size="12" fill="#000">0.0 l/m²</text>
<text x="670" y="611" font-size="12" fill="#000" font-weight="bold" text-anchor="end" textLength="17" lengthAdjust="spacingAndGlyphs">0.0</text>
<text x="685" y="547" font-size="12" fill="#000" font-weight="bold" textLength="58" lengthAdjust="spacingAndGlyphs">PMV+3:26</text>
<text transform="translate(685,563) scale(0.9,1)" font-size="12" fill="#000">WC 26.9 °C</text>
<text transform="translate(685,579) scale(0.9,1)" font-size="12" fill="#000">TP 16.2 °C</text>
<text transform="translate(685,595) scale(0.9,1)" font-size="12" fill="#000">2.1hPa/3h</text>
<text transform="translate(685,611) scale(0.9,1)" font-size="12" fill="#000">2.0hPa/1h</text>
</svg></body></html>
